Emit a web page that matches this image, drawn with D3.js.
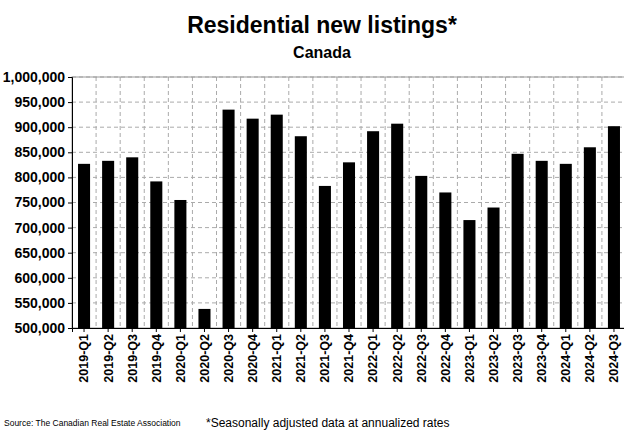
<!DOCTYPE html>
<html><head><meta charset="utf-8">
<script src="https://cdn.jsdelivr.net/npm/d3@7"></script>
<style>body{margin:0;background:#fff}text{font-family:"Liberation Sans",Arial,sans-serif}</style>
</head><body><svg id="c" width="624" height="430"></svg>
<script>
const quarters = ["2019-Q1","2019-Q2","2019-Q3","2019-Q4","2020-Q1","2020-Q2","2020-Q3","2020-Q4","2021-Q1","2021-Q2","2021-Q3","2021-Q4","2022-Q1","2022-Q2","2022-Q3","2022-Q4","2023-Q1","2023-Q2","2023-Q3","2023-Q4","2024-Q1","2024-Q2","2024-Q3"];
const listings = [827000,833000,840000,792000,755000,538000,935000,917000,925000,882000,783000,830000,892000,907000,803000,770000,715000,740000,847000,833000,827000,860000,902000];
const yTicks = d3.range(500000,1000001,50000);

const svg = d3.select("#c");
const m = {l:72, r:598, t:77, b:328};

const x = d3.scaleBand().domain(quarters).range([m.l,m.r+28]).paddingInner(0.5).paddingOuter(0.25);
const y = d3.scaleLinear().domain([500000,1000000]).range([m.b,m.t]);

// grid
svg.append("g").selectAll("line").data(yTicks.slice(1)).join("line")
  .attr("x1",m.l).attr("x2",626).attr("y1",d=>y(d)).attr("y2",d=>y(d))
  .attr("stroke","#aaa").attr("stroke-dasharray","4,3");
svg.append("g").selectAll("line").data(quarters.slice(1)).join("line")
  .attr("x1",d=>x(d)-x.step()*x.paddingInner()/2-0).attr("x2",d=>x(d)-x.step()*x.paddingInner()/2)
  .attr("y1",m.t).attr("y2",m.b).attr("stroke","#aaa").attr("stroke-dasharray","4,3");
svg.append("rect").attr("x",m.l).attr("y",m.t).attr("width",626-m.l).attr("height",m.b-m.t)
  .attr("fill","none").attr("stroke","#999");

svg.append("g").selectAll("rect").data(listings).join("rect")
  .attr("x",(d,i)=>x(quarters[i])).attr("width",x.bandwidth())
  .attr("y",d=>y(d)).attr("height",d=>m.b-y(d)).attr("fill","#000");

const ya = svg.append("g").attr("transform",`translate(${m.l},0)`)
  .call(d3.axisLeft(y).tickValues(yTicks).tickFormat(d3.format(",")).tickSize(4));
ya.selectAll("text").attr("font-size",14).attr("font-weight","bold").attr("fill","#000");
ya.select(".domain").attr("stroke","#000");

const xa = svg.append("g").attr("transform",`translate(0,${m.b})`)
  .call(d3.axisBottom(x).tickSize(4));
xa.select(".domain").attr("stroke","#000");
xa.selectAll("text").attr("font-size",12.5).attr("font-weight","bold").attr("fill","#000")
  .attr("transform","rotate(-90)").attr("text-anchor","end").attr("x",-6).attr("y",0).attr("dy","0.35em");

svg.append("text").attr("x",322).attr("y",33).attr("text-anchor","middle")
  .attr("font-size",23).attr("font-weight","bold").text("Residential new listings*");
svg.append("text").attr("x",322).attr("y",58).attr("text-anchor","middle")
  .attr("font-size",16).attr("font-weight","bold").text("Canada");
svg.append("text").attr("x",4).attr("y",426).attr("font-size",8.5).text("Source: The Canadian Real Estate Association");
svg.append("text").attr("x",206).attr("y",427).attr("font-size",12).text("*Seasonally adjusted data at annualized rates");
</script></body></html>
